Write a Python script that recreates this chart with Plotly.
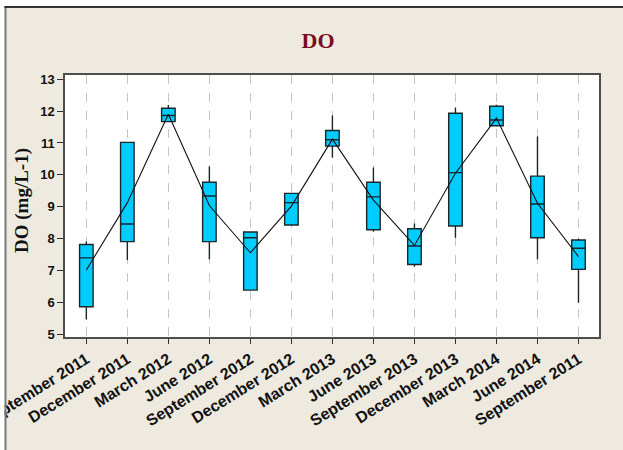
import plotly.graph_objects as go

# Sampling dates (tick labels) and dissolved-oxygen summary statistics (mg/L)
dates = ["September 2011", "December 2011", "March 2012", "June 2012",
         "September 2012", "December 2012", "March 2013", "June 2013",
         "September 2013", "December 2013", "March 2014", "June 2014",
         "September 2011"]
q1 = [5.87, 7.91, 11.67, 7.91, 6.39, 8.43, 10.90, 8.28, 7.19, 8.40, 11.54, 8.03, 7.04]
median = [7.40, 8.46, 11.86, 9.34, 8.03, 9.13, 11.10, 9.31, 7.77, 10.07, 11.72, 9.09, 7.70]
q3 = [7.82, 11.02, 12.09, 9.77, 8.21, 9.42, 11.39, 9.77, 8.31, 11.93, 12.15, 9.96, 7.96]
low = [5.47, 7.33, 11.67, 7.36, 6.39, 8.43, 10.54, 8.22, 7.12, 8.03, 11.54, 7.36, 5.99]
high = [7.91, 11.02, 12.19, 10.26, 8.21, 9.42, 11.86, 10.23, 8.48, 12.11, 12.20, 11.20, 8.00]
mean = [7.02, 9.13, 11.90, 9.04, 7.56, 9.02, 11.12, 9.21, 7.79, 10.05, 11.78, 9.11, 7.44]

pos = list(range(len(dates)))

W, H = 623, 450
L, R, T, B = 65, 24, 75, 113
pw, ph = W - L - R, H - T - B


def px_x(p):
    return (p - L) / pw


def px_y(p):
    return (H - B - p) / ph


fig = go.Figure()

fig.add_trace(go.Box(
    x=pos, q1=q1, median=median, q3=q3,
    lowerfence=low, upperfence=high,
    width=0.33, whiskerwidth=0,
    fillcolor="#00CCFF",
    line=dict(color="#1A2629", width=1.4),
    boxpoints=False, showlegend=False, hoverinfo="skip",
))

fig.add_trace(go.Scatter(
    x=pos, y=mean, mode="lines",
    line=dict(color="#111111", width=1.1),
    showlegend=False, hoverinfo="skip",
))

tick_font = dict(family="Liberation Sans, Arial", size=13, color="#111111", weight="bold")

fig.update_xaxes(
    range=[-0.52, 12.5],
    tickmode="array", tickvals=pos, ticktext=dates,
    tickangle=-32, ticklabeloverflow="allow",
    tickfont=dict(family="Liberation Sans, Arial", size=16, color="#111111", weight="bold"),
    ticks="outside", ticklen=5, tickcolor="#333333", tickwidth=1,
    showgrid=True, gridcolor="#C4C4C4", griddash="dash", gridwidth=1,
    showline=True, linecolor="#4D4D4D", linewidth=1.5, mirror=True,
    zeroline=False,
)
fig.update_yaxes(
    range=[4.92, 13.13],
    tickmode="linear", tick0=5, dtick=1,
    tickfont=tick_font,
    ticks="outside", ticklen=6, tickcolor="#333333", tickwidth=1,
    showgrid=False,
    showline=True, linecolor="#4D4D4D", linewidth=1.5, mirror=True,
    zeroline=False,
)

beige = "#EEEAE0"
shapes = [
    # panel background
    dict(type="rect", xref="paper", yref="paper", layer="below",
         x0=px_x(5), x1=px_x(W + 10), y0=px_y(H + 10), y1=px_y(7),
         fillcolor=beige, line=dict(width=0)),
    # white plotting area
    dict(type="rect", xref="paper", yref="paper", layer="below",
         x0=0, x1=1, y0=0, y1=1, fillcolor="white", line=dict(width=0)),
    # white margin left of the panel (covers overflowing tick text)
    dict(type="rect", xref="paper", yref="paper", layer="above",
         x0=px_x(-40), x1=px_x(4.5), y0=px_y(H + 10), y1=px_y(-10),
         fillcolor="white", line=dict(width=0)),
    # panel frame
    dict(type="line", xref="paper", yref="paper", layer="above",
         x0=px_x(5.5), x1=px_x(5.5), y0=px_y(H + 10), y1=px_y(6),
         line=dict(color="#7A7A7A", width=2)),
    dict(type="line", xref="paper", yref="paper", layer="above",
         x0=px_x(4.5), x1=px_x(W + 10), y0=px_y(7), y1=px_y(7),
         line=dict(color="#333333", width=2)),
]

fig.update_layout(
    width=W, height=H,
    margin=dict(l=L, r=R, t=T, b=B, autoexpand=False),
    paper_bgcolor="white", plot_bgcolor="rgba(0,0,0,0)",
    title=dict(text="DO", xref="container", yref="container",
               x=318 / W, y=1 - 40 / H, xanchor="center", yanchor="middle",
               font=dict(family="Liberation Serif, Times New Roman", size=22,
                         color="#7B0C22", weight="bold")),
    shapes=shapes,
    annotations=[dict(
        text="DO (mg/L-1)", textangle=-90, showarrow=False,
        xref="paper", yref="paper", x=px_x(22), y=px_y(201),
        xanchor="center", yanchor="middle",
        font=dict(family="Liberation Serif, Times New Roman", size=19,
                  color="#111111", weight="bold"),
    )],
)

fig.write_html("out.html")
